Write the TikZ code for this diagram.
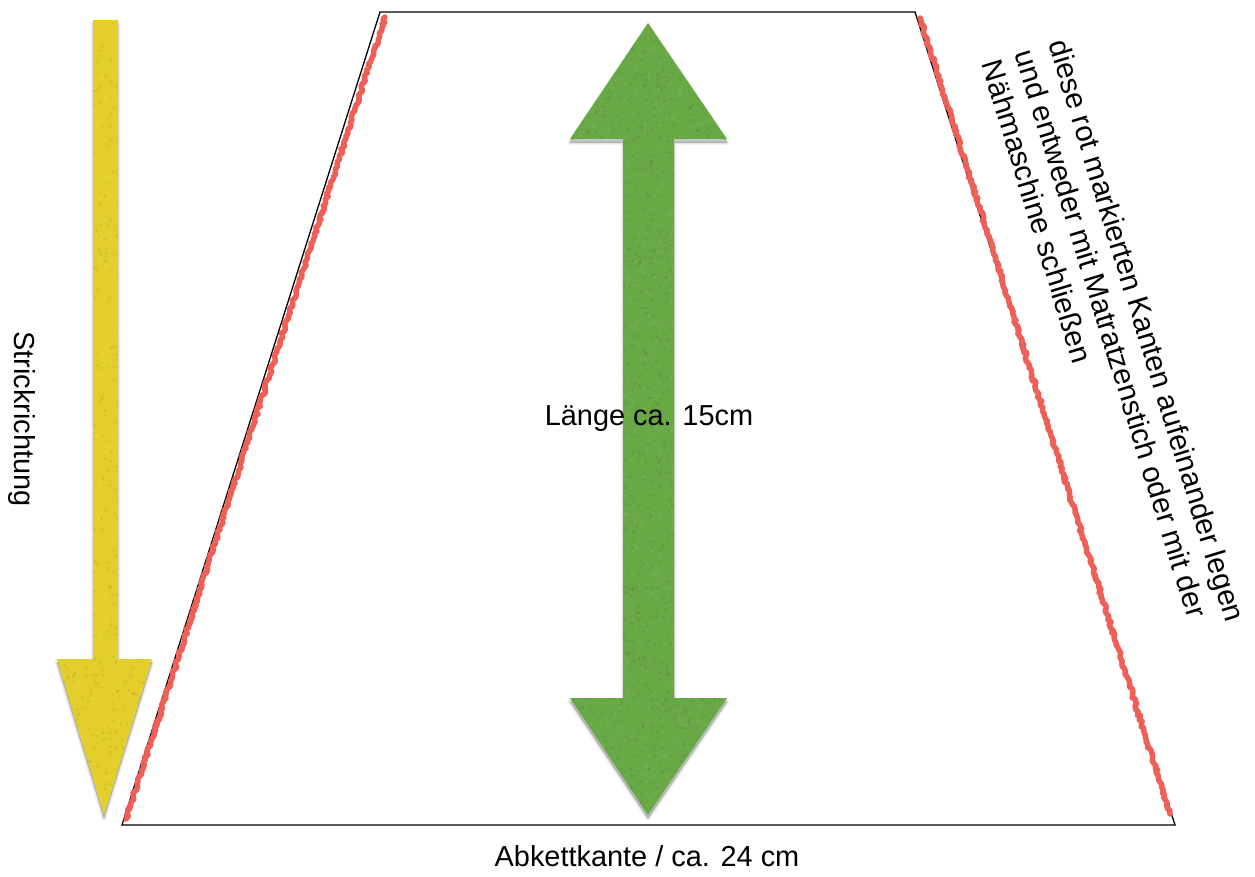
\documentclass[tikz,border=0pt]{standalone}
\usepackage{fontspec}
\setmainfont{Liberation Sans}
\usetikzlibrary{decorations.pathmorphing}
\definecolor{arrowyellow}{HTML}{E3CE2C}
\definecolor{arrowgreen}{HTML}{68A845}
\definecolor{seamred}{HTML}{EE5F57}
\tikzset{
  outline/.style={draw=black,line width=1.3pt,line join=miter},
  seam/.style={draw=seamred,line width=5.5pt,line cap=round,line join=round,
    decorate,decoration={random steps,segment length=2.2pt,amplitude=1.5pt}},
  label/.style={font=\fontsize{28.9}{35}\selectfont,inner sep=0pt,text=black},
  notelabel/.style={label,font=\fontsize{29.5}{35}\selectfont},
}
% soft shadow: stacked translucent copies of a path
\newcommand{\softshadow}[1]{%
  \foreach \w/\o in {5/0.04,3/0.06,1/0.10}{
    \fill[black,opacity=\o,draw=black,line width=\w pt,line join=round,shift={(0pt,-3.5pt)}] #1;
  }}
% mottled texture inside a path
\newcommand{\mottle}[6]{%
  \begin{scope}
    \clip #1;
    \foreach \i in {1,...,#6}{
      \pgfmathsetmacro{\px}{#2+rnd*(#3-#2)}
      \pgfmathsetmacro{\py}{#4+rnd*(#5-#4)}
      \pgfmathsetmacro{\pc}{rnd>0.5 ? 1 : 0}
      \ifdim\pc pt>0.5pt
        \fill[black,opacity=0.06] (\px,\py) circle[radius=1.6pt];
      \else
        \fill[white,opacity=0.06] (\px,\py) circle[radius=1.6pt];
      \fi
    }
  \end{scope}}
\begin{document}
\begin{tikzpicture}[x=1pt,y=-1pt]
\useasboundingbox (0,0) rectangle (1255,876);
\pgfmathsetseed{4711}
% trapezoid
\draw[outline] (122,825) -- (380,12) -- (915,12) -- (1175,825) -- cycle;
% seams
\coordinate (la) at (126,819);
\coordinate (lb) at (385,17);
\coordinate (ra) at (920,18);
\coordinate (rb) at (1170,814);
\draw[seam] (la) -- (lb);
\draw[seam] (ra) -- (rb);
% yellow arrow
\def\yarrow{(93,20) -- (118,20) -- (118,659) -- (152,659) -- (104,815) -- (57,659) -- (93,659) -- cycle}
\softshadow{\yarrow}
\fill[arrowyellow] \yarrow;
\mottle{\yarrow}{55}{154}{18}{817}{1400}
% green arrow
\def\garrow{(648,23) -- (727,139) -- (674,139) -- (674,698) -- (727,698) -- (648,815) -- (570,698) -- (623,698) -- (623,139) -- (570,139) -- cycle}
\softshadow{\garrow}
\fill[arrowgreen] \garrow;
\mottle{\garrow}{568}{729}{21}{817}{3000}
% labels
\node[label,rotate=-90] (strick) at (22,419) {Strickrichtung};
\node[label] (laenge) at (649,419) {Länge ca. 15cm};
\node[label] (abkett) at (647,856) {Abkettkante / ca. 24 cm};
\node[notelabel,rotate=-73,anchor=north west,align=left] (note) at (1069,37)
  {diese rot markierten Kanten aufeinander legen\\und entweder mit Matratzenstich oder mit der\\Nähmaschine schließen};
\end{tikzpicture}
\end{document}
